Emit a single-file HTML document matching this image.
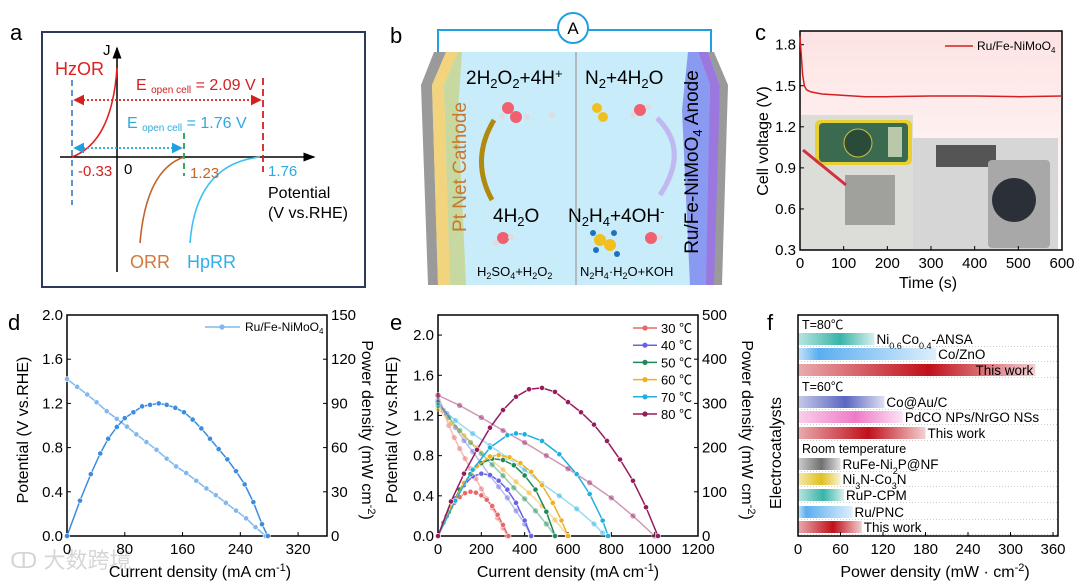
<!DOCTYPE html>
<html><head><meta charset="utf-8"><style>
html,body{margin:0;padding:0;background:#fff}
svg{display:block;font-family:"Liberation Sans","Noto Sans CJK SC",sans-serif}
</style></head><body>
<svg id="fig" width="1080" height="581" viewBox="0 0 1080 581" xmlns="http://www.w3.org/2000/svg">
<defs>
<marker id="arB" markerWidth="8" markerHeight="8" refX="7" refY="4" orient="auto"><path d="M0,1 L8,4 L0,7 Z" fill="#000"/></marker>
<marker id="arR" markerWidth="6" markerHeight="6" refX="5" refY="3" orient="auto-start-reverse"><path d="M0,0 L6,3 L0,6 Z" fill="#d42020"/></marker>
<marker id="arC" markerWidth="6" markerHeight="6" refX="5" refY="3" orient="auto-start-reverse"><path d="M0,0 L6,3 L0,6 Z" fill="#20a0e0"/></marker>
<linearGradient id="cbg" x1="0" y1="0" x2="0" y2="1"><stop offset="0" stop-color="#fde3e3"/><stop offset="0.6" stop-color="#fff3f3"/><stop offset="1" stop-color="#ffffff"/></linearGradient>
</defs>

<!-- Panel a -->
<g>
<text x="10" y="40" font-size="22">a</text>
<rect x="42" y="32" width="323" height="255" fill="#fff" stroke="#2b3a5a" stroke-width="2"/>
<line x1="60" y1="157" x2="314" y2="157" stroke="#000" stroke-width="1.5" marker-end="url(#arB)"/>
<line x1="117" y1="272" x2="117" y2="48" stroke="#000" stroke-width="1.5" marker-end="url(#arB)"/>
<text x="103" y="55" font-size="15">J</text>
<text x="55" y="75" font-size="18" fill="#e02020">HzOR</text>
<path d="M72,157 Q112,142 117,68" fill="none" stroke="#e02020" stroke-width="1.6"/>
<line x1="72" y1="80" x2="72" y2="205" stroke="#3a78c0" stroke-width="1.6" stroke-dasharray="6,4"/>
<line x1="263" y1="78" x2="263" y2="172" stroke="#d42020" stroke-width="1.8" stroke-dasharray="7,4"/>
<line x1="184" y1="133" x2="184" y2="176" stroke="#20a050" stroke-width="1.8" stroke-dasharray="6,4"/>
<line x1="75" y1="100" x2="260" y2="100" stroke="#d42020" stroke-width="1.8" stroke-dasharray="2,2" marker-start="url(#arR)" marker-end="url(#arR)"/>
<line x1="75" y1="148" x2="181" y2="148" stroke="#20a0e0" stroke-width="1.8" stroke-dasharray="2,2" marker-start="url(#arC)" marker-end="url(#arC)"/>
<text x="136" y="90" font-size="16" fill="#d42020">E <tspan font-size="10" dy="3">open cell</tspan><tspan dy="-3"> = 2.09 V</tspan></text>
<text x="127" y="128" font-size="16" fill="#30a8e0">E <tspan font-size="10" dy="3">open cell</tspan><tspan dy="-3"> = 1.76 V</tspan></text>
<path d="M184,157 Q146,170 140,243" fill="none" stroke="#c0652a" stroke-width="1.6"/>
<path d="M260,157 Q196,164 190,243" fill="none" stroke="#40c0f0" stroke-width="1.6"/>
<text x="130" y="268" font-size="18" fill="#d07a40">ORR</text>
<text x="187" y="268" font-size="18" fill="#30b0e8">HpRR</text>
<text x="78" y="176" font-size="15" fill="#d42020">-0.33</text>
<text x="124" y="174" font-size="15">0</text>
<text x="190" y="178" font-size="15" fill="#c0652a">1.23</text>
<text x="268" y="176" font-size="15" fill="#30a8e0">1.76</text>
<text x="268" y="198" font-size="16">Potential</text>
<text x="268" y="218" font-size="16">(V vs.RHE)</text>
</g>

<!-- Panel b -->
<g>
<text x="390" y="43" font-size="22">b</text>
<polyline points="438,70 438,30 558,30" fill="none" stroke="#20a0e0" stroke-width="2"/>
<polyline points="588,30 711,30 711,70" fill="none" stroke="#20a0e0" stroke-width="2"/>
<circle cx="573" cy="28" r="15" fill="#fff" stroke="#20a0e0" stroke-width="2"/>
<text x="573" y="34" font-size="17" text-anchor="middle">A</text>
<polygon points="440,52 708,52 728,85 720,285 432,285 422,85" fill="#c9ecfa"/>
<polygon points="434,52 446,52 432,85 438,285 428,285 421,85" fill="#9a9a9a"/>
<polygon points="446,52 458,52 444,85 450,285 438,285 432,85" fill="#f2d37e"/>
<polygon points="458,52 462,52 458,110 466,285 450,285 444,85" fill="#c7d8a0"/>
<polygon points="688,52 698,52 710,85 708,285 690,285 682,110" fill="#8a9af0"/>
<polygon points="698,52 708,52 720,85 716,285 706,285 710,85" fill="#9a78e0"/>
<polygon points="708,52 714,52 728,85 722,285 714,285 720,85" fill="#9a9a9a"/>
<line x1="576" y1="52" x2="576" y2="285" stroke="#aaa" stroke-width="1.5"/>
<text x="466" y="84" font-size="19">2H<tspan font-size="13" dy="4">2</tspan><tspan dy="-4">O</tspan><tspan font-size="13" dy="4">2</tspan><tspan dy="-4">+4H</tspan><tspan font-size="13" dy="-6">+</tspan></text>
<text x="585" y="84" font-size="19">N<tspan font-size="13" dy="4">2</tspan><tspan dy="-4">+4H</tspan><tspan font-size="13" dy="4">2</tspan><tspan dy="-4">O</tspan></text>
<text x="493" y="222" font-size="19">4H<tspan font-size="13" dy="4">2</tspan><tspan dy="-4">O</tspan></text>
<text x="568" y="222" font-size="19">N<tspan font-size="13" dy="4">2</tspan><tspan dy="-4">H</tspan><tspan font-size="13" dy="4">4</tspan><tspan dy="-4">+4OH</tspan><tspan font-size="13" dy="-6">-</tspan></text>
<text x="477" y="276" font-size="13">H<tspan font-size="9" dy="3">2</tspan><tspan dy="-3">SO</tspan><tspan font-size="9" dy="3">4</tspan><tspan dy="-3">+H</tspan><tspan font-size="9" dy="3">2</tspan><tspan dy="-3">O</tspan><tspan font-size="9" dy="3">2</tspan></text>
<text x="580" y="276" font-size="13">N<tspan font-size="9" dy="3">2</tspan><tspan dy="-3">H</tspan><tspan font-size="9" dy="3">4</tspan><tspan dy="-3">·H</tspan><tspan font-size="9" dy="3">2</tspan><tspan dy="-3">O+KOH</tspan></text>
<text transform="translate(466,167) rotate(-90)" font-size="19" fill="#c8782a" text-anchor="middle">Pt Net Cathode</text>
<text transform="translate(698,162) rotate(-90)" font-size="19" text-anchor="middle">Ru/Fe-NiMoO<tspan font-size="13" dy="4">4</tspan><tspan dy="-4"> Anode</tspan></text>
<path d="M494,120 Q470,160 492,200" fill="none" stroke="#b08a10" stroke-width="5"/>
<path d="M660,195 Q690,150 657,118" fill="none" stroke="#c0b8f0" stroke-width="5"/>
<g>
<circle cx="508" cy="108" r="6" fill="#f06070"/><circle cx="516" cy="117" r="6" fill="#f06070"/><circle cx="502" cy="116" r="3" fill="#ddd"/><circle cx="527" cy="117" r="3" fill="#ddd"/><circle cx="552" cy="115" r="3" fill="#ddd"/>
<circle cx="597" cy="108" r="5" fill="#f0c020"/><circle cx="603" cy="117" r="5" fill="#f0c020"/>
<circle cx="640" cy="110" r="6" fill="#f06070"/><circle cx="633" cy="115" r="3" fill="#ddd"/><circle cx="648" cy="107" r="3" fill="#ddd"/>
<circle cx="503" cy="238" r="6" fill="#f06070"/><circle cx="496" cy="243" r="3" fill="#ddd"/><circle cx="511" cy="237" r="3" fill="#ddd"/>
<circle cx="600" cy="240" r="6" fill="#f0c020"/><circle cx="610" cy="245" r="6" fill="#f0c020"/><circle cx="593" cy="233" r="3" fill="#2070c0"/><circle cx="614" cy="233" r="3" fill="#2070c0"/><circle cx="596" cy="250" r="3" fill="#2070c0"/><circle cx="617" cy="254" r="3" fill="#2070c0"/>
<circle cx="651" cy="238" r="6" fill="#f06070"/><circle cx="660" cy="237" r="3" fill="#ddd"/>
</g>
</g>

<!-- bottom panel letters -->
<text x="755" y="40" font-size="22">c</text>
<text x="8" y="330" font-size="22">d</text>
<text x="390" y="330" font-size="22">e</text>
<text x="767" y="330" font-size="22">f</text>
<text x="10" y="568" font-size="22" fill="#ccc" opacity="0.8">ↀ 大数跨境</text>

<g id="pc"></g><g id="pd"></g><g id="pe"></g><g id="pf"></g>
</svg>
<script>
// ---------- data ----------
const cTime=[0,3,6,10,15,25,50,100,150,200,300,400,500,600];
const cVolt=[1.86,1.72,1.58,1.50,1.47,1.455,1.44,1.43,1.42,1.42,1.425,1.425,1.42,1.425];
const cYTicks=[0.3,0.6,0.9,1.2,1.5,1.8];
const cXTicks=[0,100,200,300,400,500,600];

const dCurrent=[0,14,28,41,55,69,83,96,110,124,138,151,165,179,193,206,220,234,248,261,275];
const dPotential=[1.42,1.35,1.28,1.21,1.13,1.06,0.99,0.92,0.85,0.78,0.70,0.63,0.57,0.50,0.43,0.37,0.30,0.23,0.16,0.08,0.0];
const dPowCurrent=[0,18,33,46,57,69,80,92,104,115,127,138,150,162,174,186,198,210,222,234,246,258,270,278];
const dPower=[0,24,42,56,66,74,80,84,88,89,90,89,87,84,79,73,66,59,52,44,35,23,8,0];
const dXTicks=[0,80,160,240,320];
const dYTicks=[0,0.4,0.8,1.2,1.6,2.0];
const dY2Ticks=[0,30,60,90,120,150];

const eLabels=["30 ℃","40 ℃","50 ℃","60 ℃","70 ℃","80 ℃"];
const eColors=["#e8686a","#6464e6","#1d8a58","#f0b020","#20b0e0","#981a5c"];
const ePowX=[[0,25,50,75,100,125,150,175,200,225,250,275,300,325],[0,40,80,120,160,200,240,280,320,360,400,430],[0,50,100,150,200,250,300,350,400,450,500,540],[0,60,120,180,240,280,330,380,430,480,530,570,600],[0,80,160,240,320,360,400,480,560,640,700,760,785],[0,60,120,180,240,300,360,420,480,540,600,660,720,780,840,900,960,1015]];
const ePowY=[[0,30,55,75,88,97,100,98,92,82,68,48,25,0],[0,45,85,115,135,141,138,125,105,75,35,0],[0,55,105,140,165,175,172,160,137,105,55,0],[0,65,120,158,180,183,178,165,145,115,75,35,0],[0,80,150,200,228,232,230,215,185,140,95,35,0],[0,78,141,195,245,285,315,332,335,326,303,280,252,215,173,125,65,0]];
const eVolX=[[0,25,50,75,100,125,150,175,200,225,250,275,300,320],[0,40,80,120,160,200,240,280,320,360,400,430],[0,50,100,150,200,250,300,350,400,450,500,540],[0,60,120,180,240,300,360,420,480,540,600],[0,80,160,240,320,400,480,560,640,720,760],[0,100,200,300,400,500,600,700,800,900,1000]];
const eVolY=[[1.40,1.25,1.10,0.98,0.87,0.77,0.67,0.57,0.47,0.37,0.28,0.18,0.08,0],[1.35,1.22,1.08,0.95,0.84,0.72,0.60,0.49,0.38,0.25,0.12,0],[1.33,1.18,1.05,0.93,0.82,0.71,0.60,0.48,0.37,0.25,0.12,0],[1.27,1.12,1.00,0.88,0.77,0.66,0.54,0.43,0.30,0.16,0],[1.30,1.15,1.02,0.90,0.78,0.66,0.52,0.40,0.27,0.12,0.03],[1.40,1.30,1.18,1.05,0.93,0.80,0.67,0.53,0.38,0.20,0.0]];
const eXTicks=[0,200,400,600,800,1000,1200];
const eYTicks=[0,0.4,0.8,1.2,1.6,2.0];
const eY2Ticks=[0,100,200,300,400,500];

const fNames=["Ni0.6Co0.4-ANSA","Co/ZnO","This work","Co@Au/C","PdCO NPs/NrGO NSs","This work","RuFe-Ni2P@NF","Ni3N-Co3N","RuP-CPM","Ru/PNC","This work"];
const fValues=[108,195,335,122,148,180,60,60,65,77,90];
const fColors=["#38b4a8","#5aaef0","#c0101a","#5a66c0","#f07ac8","#c0101a","#707070","#e0c020","#38b4a8","#5aaef0","#c0101a"];
const fXTicks=[0,60,120,180,240,300,360];

const NS="http://www.w3.org/2000/svg";
function mk(tag,attrs,parent){const e=document.createElementNS(NS,tag);for(const k in attrs)e.setAttribute(k,attrs[k]);parent.appendChild(e);return e;}
const F=15;

// ---------- panel c ----------
(function(){
const g=document.getElementById('pc');
const L=800,R=1062,T=31,B=250;
const sx=v=>L+(v-0)/600*(R-L), sy=v=>B-(v-0.3)/(1.9-0.3)*(B-T);
let bg=mk('rect',{x:L,y:T,width:R-L,height:B-T,fill:'url(#cbg)'},g);


let p1=mk('rect',{x:801,y:115,width:112,height:135,fill:'#dcdcd8'},g);


let m=mk('rect',{x:815,y:120,width:97,height:45,rx:5,fill:'#e8d030'},g);


let m2=mk('rect',{x:819,y:123,width:89,height:39,rx:4,fill:'#3a6a50'},g);


let dial=mk('circle',{cx:858,cy:143,r:14,fill:'#2a4a3a',stroke:'#d0c040'},g);


let lcd=mk('rect',{x:888,y:127,width:14,height:30,fill:'#b8c8a8'},g);


let cell=mk('rect',{x:845,y:175,width:50,height:50,fill:'#a0a09c'},g);


let probe=mk('line',{x1:803,x2:846,y1:150,y2:185,stroke:'#d03040','stroke-width':3},g);


let p2=mk('rect',{x:913,y:138,width:145,height:111,fill:'#d6d6d6'},g);


let inst=mk('rect',{x:936,y:145,width:60,height:22,fill:'#555'},g);


let pump=mk('rect',{x:988,y:160,width:62,height:88,rx:4,fill:'#a8a8a8'},g);


let ph=mk('circle',{cx:1014,cy:200,r:22,fill:'#2a2f38'},g);


let box=mk('rect',{x:L,y:T,width:R-L,height:B-T,fill:'none',stroke:'#000','stroke-width':1.5},g);


cYTicks.forEach(v=>{const y=sy(v);
 mk('line',{x1:L,x2:L+4,y1:y,y2:y,stroke:'#000'},g);
 const t=mk('text',{x:L-4,y:y+5,'font-size':F,'text-anchor':'end'},g);t.textContent=v.toFixed(1);
 
 });
cXTicks.forEach(v=>{const x=sx(v);
 mk('line',{x1:x,x2:x,y1:B,y2:B-4,stroke:'#000'},g);
 const t=mk('text',{x:x,y:B+18,'font-size':F,'text-anchor':'middle'},g);t.textContent=v;
 
 });
let pl=mk('polyline',{points:cTime.map((t,i)=>sx(t)+','+sy(cVolt[i])).join(' '),fill:'none',stroke:'#d42020','stroke-width':1.5},g);


let ll=mk('line',{x1:945,x2:973,y1:46,y2:46,stroke:'#d42020','stroke-width':1.5},g);


let lt=mk('text',{x:977,y:50,'font-size':12},g);lt.innerHTML='Ru/Fe-NiMoO<tspan font-size="8" dy="3">4</tspan>';


let xt=mk('text',{x:928,y:288,'font-size':16,'text-anchor':'middle'},g);xt.textContent='Time (s)';


let yt=mk('text',{transform:'translate(768,141) rotate(-90)','font-size':16,'text-anchor':'middle'},g);yt.textContent='Cell voltage (V)';


})();

// ---------- dual axis helper ----------
function dual(g,L,R,T,B,xmax,ymax,y2max,xt,yt,y2t,pref,lx,rx,xc){
 const box=mk('rect',{x:L,y:T,width:R-L,height:B-T,fill:'none',stroke:'#000','stroke-width':1.5},g);
 
 
 const sx=v=>L+v/xmax*(R-L), sy=v=>B-v/ymax*(B-T), sy2=v=>B-v/y2max*(B-T);
 xt.forEach(v=>{const x=sx(v);mk('line',{x1:x,x2:x,y1:B,y2:B-4,stroke:'#000'},g);
  const t=mk('text',{x:x,y:B+18,'font-size':F,'text-anchor':'middle'},g);t.textContent=v;
  
  });
 yt.forEach(v=>{const y=sy(v);mk('line',{x1:L,x2:L+4,y1:y,y2:y,stroke:'#000'},g);
  const t=mk('text',{x:L-4,y:y+5,'font-size':F,'text-anchor':'end'},g);t.textContent=v.toFixed(1);
  
  });
 y2t.forEach(v=>{const y=sy2(v);mk('line',{x1:R,x2:R-4,y1:y,y2:y,stroke:'#000'},g);
  const t=mk('text',{x:R+4,y:y+5,'font-size':F},g);t.textContent=v;
  
  });
 const a=mk('text',{transform:`translate(${lx},430) rotate(-90)`,'font-size':16,'text-anchor':'middle'},g);a.textContent='Potential (V vs.RHE)';
 
 
 const b=mk('text',{transform:`translate(${rx},430) rotate(90)`,'font-size':16,'text-anchor':'middle'},g);b.innerHTML='Power density (mW cm<tspan font-size="11" dy="-6">-2</tspan><tspan dy="6">)</tspan>';
 
 
 const c=mk('text',{x:xc,y:577,'font-size':16,'text-anchor':'middle'},g);c.innerHTML='Current density (mA cm<tspan font-size="11" dy="-6">-1</tspan><tspan dy="6">)</tspan>';
 
 
 return {sx,sy,sy2};
}
function series(g,xs,ys,sx,sy,col,op,name,r){
 const pl=mk('polyline',{points:xs.map((x,i)=>sx(x)+','+sy(ys[i])).join(' '),fill:'none',stroke:col,'stroke-width':1.5,opacity:op},g);
 
 
 xs.forEach((x,i)=>{const c=mk('circle',{cx:sx(x),cy:sy(ys[i]),r:r||2.6,fill:col,stroke:'#fff','stroke-width':0.6,opacity:op},g);
  
  });
}

// ---------- panel d ----------
(function(){
const g=document.getElementById('pd');
const s=dual(g,67,327,315,536,360,2.0,150,dXTicks,dYTicks,dY2Ticks,'d',28,362,200);
series(g,dCurrent,dPotential,s.sx,s.sy,'#80b8ee',1,'d-potential');
series(g,dPowCurrent,dPower,s.sx,s.sy2,'#3a8ce0',1,'d-power');
const l=mk('line',{x1:205,x2:240,y1:327,y2:327,stroke:'#80b8ee','stroke-width':1.5},g);


const lc=mk('circle',{cx:222,cy:327,r:2.6,fill:'#80b8ee'},g);


const t=mk('text',{x:245,y:331,'font-size':12},g);t.innerHTML='Ru/Fe-NiMoO<tspan font-size="8" dy="3">4</tspan>';


})();

// ---------- panel e ----------
(function(){
const g=document.getElementById('pe');
const s=dual(g,438,698,315,536,1200,2.2,500,eXTicks,eYTicks,eY2Ticks,'e',397,742,568);
eLabels.forEach((lab,k)=>series(g,eVolX[k],eVolY[k],s.sx,s.sy,eColors[k],0.45,'e-potential-'+(k*10+30),3));
eLabels.forEach((lab,k)=>series(g,ePowX[k],ePowY[k],s.sx,s.sy2,eColors[k],1,'e-power-'+(k*10+30)));
eLabels.forEach((lab,k)=>{const y=328+k*17.2;
 const l=mk('line',{x1:633,x2:657,y1:y,y2:y,stroke:eColors[k],'stroke-width':1.5},g);
 
 
 const c=mk('circle',{cx:645,cy:y,r:2.6,fill:eColors[k]},g);
 
 
 const t=mk('text',{x:661,y:y+5,'font-size':13},g);t.textContent=lab;
 
 });
})();

// ---------- panel f ----------
(function(){
const g=document.getElementById('pf');
const L=798,R=1058,T=315,B=536;
const sx=v=>L+v/360*(1053-L);
const rowsY=[339,354,370,402,417,433,464,479,495,512,527];
const defs=document.querySelector('defs');
function fmt(n){return n.replace(/([A-Za-z])(\d(?:\.\d)?)/g,(m,a,d)=>a+'<tspan font-size="9" baseline-shift="sub">'+d+'</tspan>');}
fNames.forEach((n,i)=>{const y=rowsY[i];
 const gl=mk('line',{x1:L,x2:R,y1:y+7.5,y2:y+7.5,stroke:'#ccc','stroke-dasharray':'1,2'},g);
 
 
 const lg=mk('linearGradient',{id:'fg'+i,x1:0,x2:1,y1:0,y2:0},defs);
 const mid=(i===1||i===9)?0.15:0.55;
 mk('stop',{offset:0,'stop-color':fColors[i],'stop-opacity':0.35},lg);
 mk('stop',{offset:mid,'stop-color':fColors[i],'stop-opacity':1},lg);
 mk('stop',{offset:1,'stop-color':fColors[i],'stop-opacity':0.2},lg);
 const r=mk('rect',{x:L,y:y-6,width:sx(fValues[i])-L,height:12,fill:'url(#fg'+i+')'},g);
 
 
 const inside=(i===2);
 const t=mk('text',{x:inside?sx(fValues[i])-2:sx(fValues[i])+2,y:y+5,'font-size':13.5,'text-anchor':inside?'end':'start'},g);
 t.innerHTML=fmt(n);
 
 });
[['T=80℃',329],['T=60℃',391],['Room temperature',453]].forEach(a=>{const t=mk('text',{x:802,y:a[1],'font-size':12.5},g);t.textContent=a[0];
 
 });
const box=mk('rect',{x:L,y:T,width:R-L,height:B-T,fill:'none',stroke:'#000','stroke-width':1.5},g);


fXTicks.forEach(v=>{const x=sx(v);mk('line',{x1:x,x2:x,y1:B,y2:B-4,stroke:'#000'},g);
 const t=mk('text',{x:x,y:B+18,'font-size':F,'text-anchor':'middle'},g);t.textContent=v;
 
 });
const yt=mk('text',{transform:'translate(781,453) rotate(-90)','font-size':16,'text-anchor':'middle'},g);yt.textContent='Electrocatalysts';


const xt=mk('text',{x:935,y:577,'font-size':16,'text-anchor':'middle'},g);xt.innerHTML='Power density (mW · cm<tspan font-size="11" dy="-6">-2</tspan><tspan dy="6">)</tspan>';


})();
</script>
</body></html>
